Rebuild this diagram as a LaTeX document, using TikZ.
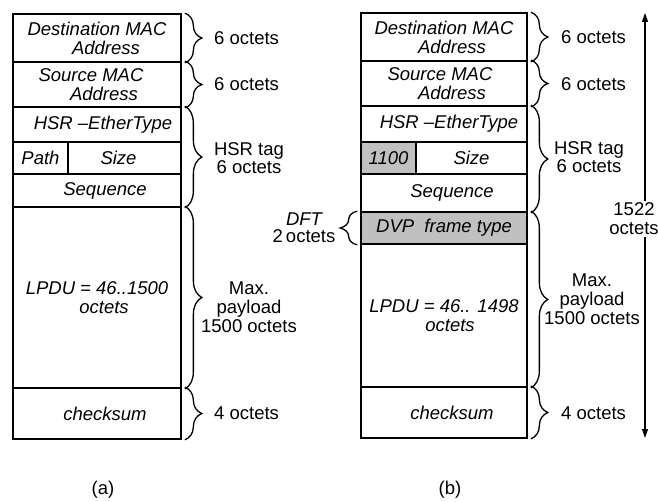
\documentclass[tikz,border=0pt]{standalone}
\usepackage{fontspec}
\setmainfont{Liberation Sans}
\usetikzlibrary{decorations.pathreplacing,arrows.meta}
\definecolor{fieldgray}{HTML}{C0C0C0}
\begin{document}
\begin{tikzpicture}[x=1pt,y=-1pt,
  fld/.style={draw,line width=1.7pt,inner sep=0pt,align=center,
    font=\fontsize{18.5}{19}\selectfont\itshape},
  gfld/.style={fld,fill=fieldgray},
  brc/.style={decorate,decoration={brace,amplitude=17pt},line width=1.3pt},
  lbl/.style={inner sep=0pt,align=center,font=\fontsize{18.5}{19}\selectfont},
  arr/.style={line width=1.3pt,-{Triangle[length=9pt,width=6pt]}}]
\useasboundingbox (0,0) rectangle (658,502);

% ---------- frame (a) ----------
\node[fld,minimum width=168pt,minimum height=48pt] (dA) at (97,38)
  {Destination MAC\\\hspace*{18pt}Address};
\node[fld,minimum width=168pt,minimum height=45pt] (sA) at (97,84.5)
  {Source MAC\hspace*{12pt}\\\hspace*{14pt}Address};
\node[fld,minimum width=168pt,minimum height=35pt] (hA) at (97,124.5)
  {\hspace*{12pt}HSR –EtherType};
\node[fld,minimum width=55pt,minimum height=32pt] (pA) at (40.5,158) {Path};
\node[fld,minimum width=113pt,minimum height=32pt] (zA) at (124.5,158)
  {Size\hspace*{12pt}};
\node[fld,minimum width=168pt,minimum height=33pt] (qA) at (97,190.5)
  {\hspace*{16pt}Sequence};
\node[fld,minimum width=168pt,minimum height=181pt] (lA) at (97,297.5)
  {LPDU = 46..1500\\\hspace*{14pt}octets};
\node[fld,minimum width=168pt,minimum height=51pt] (cA) at (97,413.5)
  {\hspace*{16pt}checksum};

\draw[brc] ([xshift=3pt]dA.north east) -- ([xshift=3pt]dA.south east);
\draw[brc] ([xshift=3pt]sA.north east) -- ([xshift=3pt]sA.south east);
\draw[brc] ([xshift=3pt]hA.north east) -- ([xshift=3pt]qA.south east);
\draw[brc] ([xshift=3pt]lA.north east) -- ([xshift=3pt]lA.south east);
\draw[brc] ([xshift=3pt]cA.north east) -- ([xshift=3pt]cA.south east);

\node[lbl,anchor=west] (la1) at (214,38) {6 octets};
\node[lbl,anchor=west] (la2) at (214,84) {6 octets};
\node[lbl,font=\fontsize{18.5}{14}\selectfont] (la3) at (249,158) {HSR tag\\6 octets};
\node[lbl] (la4) at (249,307) {Max.\\payload\\1500 octets};
\node[lbl,anchor=west] (la5) at (214,413) {4 octets};
\node[lbl] (capa) at (103,490) {(a)};

% ---------- frame (b) ----------
\node[fld,minimum width=166pt,minimum height=48pt] (dB) at (444,37)
  {Destination MAC\\\hspace*{16pt}Address};
\node[fld,minimum width=166pt,minimum height=45pt] (sB) at (444,83.5)
  {Source MAC\hspace*{8pt}\\\hspace*{16pt}Address};
\node[fld,minimum width=166pt,minimum height=36pt] (hB) at (444,124)
  {\hspace*{10pt}HSR –EtherType};
\node[gfld,minimum width=55pt,minimum height=32pt] (pB) at (388.5,158) {1100};
\node[fld,minimum width=111pt,minimum height=32pt] (zB) at (471.5,158) {Size};
\node[fld,minimum width=166pt,minimum height=38pt] (qB) at (444,193)
  {\hspace*{16pt}Sequence};
\node[gfld,minimum width=166pt,minimum height=32pt] (vB) at (444,228)
  {DVP~ frame type};
\node[fld,minimum width=166pt,minimum height=143pt] (lB) at (444,315.5)
  {LPDU = 46.. 1498\\\hspace*{12pt}octets};
\node[fld,minimum width=166pt,minimum height=51pt] (cB) at (444,412.5)
  {\hspace*{16pt}checksum};

\draw[brc] ([xshift=3pt]dB.north east) -- ([xshift=3pt]dB.south east);
\draw[brc] ([xshift=3pt]sB.north east) -- ([xshift=3pt]sB.south east);
\draw[brc] ([xshift=3pt]hB.north east) -- ([xshift=3pt]qB.south east);
\draw[brc] ([xshift=3pt]vB.north east) -- ([xshift=3pt]lB.south east);
\draw[brc] ([xshift=3pt]cB.north east) -- ([xshift=3pt]cB.south east);
\draw[brc] ([xshift=-3pt]vB.south west) -- ([xshift=-3pt]vB.north west);

\node[lbl,anchor=west] (lb1) at (561,37) {6 octets};
\node[lbl,anchor=west] (lb2) at (561,84) {6 octets};
\node[lbl,font=\fontsize{18.5}{14}\selectfont] (lb3) at (589,157) {HSR tag\\6 octets};
\node[lbl] (lb4) at (592,299) {Max.\\payload\\1500 octets};
\node[lbl,anchor=west] (lb5) at (561,413) {4 octets};
\node[lbl,font=\fontsize{18.5}{17}\selectfont] (dft) at (304,228)
  {\itshape DFT\\2\,octets};
\node[lbl,inner sep=2pt] (tot) at (634,219) {1522\\octets};
\coordinate (aT) at (645,13);
\coordinate (aB) at (645,438);
\draw[arr] (tot.north -| aT) -- (aT);
\draw[arr] (tot.south -| aB) -- (aB);
\node[lbl] (capb) at (450,490) {(b)};
\end{tikzpicture}
\end{document}
